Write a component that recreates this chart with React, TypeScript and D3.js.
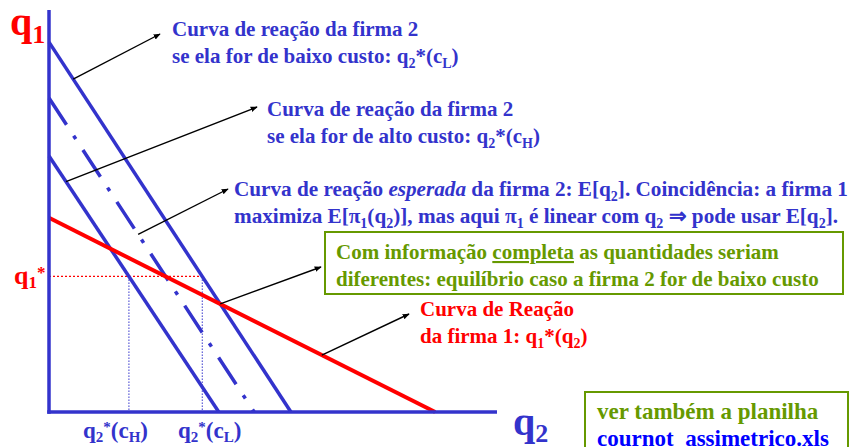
import React from "react";
import * as d3 from "d3";

// Reaction curves, each given by its two intercepts (q1 at q2 = 0, q2 at q1 = 0)
const curveIds = ["lowCost", "highCost", "expected", "firm1"];
const q1Intercepts = [9.2, 6.37, 7.81, 4.83];
const q2Intercepts = [5.4, 3.79, 4.58, 8.62];

// Axis extents (model units)
const q1Max = 10;
const q2Max = 10;

// Points on the curves where the callout arrows start (q2 values)
const arrowStartQ2 = [0.54, 0.38, 1.99, 6.09];

const W = 853;
const H = 447;
const BLUE = "#3333CC";
const RED = "#FF0000";
const GREEN = "#669900";
const LINK = "#0000FF";
const FONT = "'Liberation Serif', 'Times New Roman', serif";

type Seg = { t: string; sub?: boolean; sup?: boolean; it?: boolean; u?: boolean };

const segs = (...parts: (string | Seg)[]): Seg[] =>
  parts.map((p) => (typeof p === "string" ? { t: p } : p));
const sub = (t: string): Seg => ({ t, sub: true });
const sup = (t: string): Seg => ({ t, sup: true });

function RichText({
  x, y, parts, size, fill, subSize, shift = 5,
}: { x: number; y: number; parts: Seg[]; size: number; fill: string; subSize?: number; shift?: number }) {
  const ss = subSize ?? Math.round(size * 0.65);
  let level = 0;
  return (
    <text x={x} y={y} fontFamily={FONT} fontWeight="bold" fontSize={size} fill={fill}>
      {parts.map((p, i) => {
        const target = p.sub ? shift : p.sup ? -shift * 1.4 : 0;
        const dy = target - level;
        level = target;
        return (
          <tspan
            key={i}
            dy={dy}
            fontSize={p.sub || p.sup ? ss : size}
            fontStyle={p.it ? "italic" : "normal"}
            textDecoration={p.u ? "underline" : undefined}
          >
            {p.t}
          </tspan>
        );
      })}
    </text>
  );
}

export default function App() {
  const x = d3.scaleLinear().domain([0, q2Max]).range([49, 497]);
  const y = d3.scaleLinear().domain([0, q1Max]).range([412, 10]);

  const curves = curveIds.map((id, i) => ({ id, A: q1Intercepts[i], B: q2Intercepts[i] }));
  const byId = Object.fromEntries(curves.map((c) => [c.id, c]));
  const q1At = (c: { A: number; B: number }, q2: number) => c.A * (1 - q2 / c.B);
  const q2At = (c: { A: number; B: number }, q1: number) => c.B * (1 - q1 / c.A);

  // Intersection of firm 1's reaction with a firm-2 reaction curve
  const meet = (f1: { A: number; B: number }, f2: { A: number; B: number }) => {
    const q1 = (f1.A * (1 - f2.B / f1.B)) / (1 - (f1.A * f2.B) / (f1.B * f2.A));
    return { q1, q2: q2At(f2, q1) };
  };

  const eq = meet(byId.firm1, byId.expected);
  const q1Star = eq.q1;
  const q2H = q2At(byId.highCost, q1Star);
  const q2L = q2At(byId.lowCost, q1Star);
  const full = meet(byId.firm1, byId.lowCost);

  const line = d3
    .line<[number, number]>()
    .x((d) => x(d[0]))
    .y((d) => y(d[1]));

  const pathOf = (c: { A: number; B: number }) => line([[0, c.A], [c.B, 0]]) ?? "";

  const arrows: { from: [number, number]; to: [number, number] }[] = [
    { from: [x(arrowStartQ2[0]), y(q1At(byId.lowCost, arrowStartQ2[0]))], to: [160, 34] },
    { from: [x(arrowStartQ2[1]), y(q1At(byId.highCost, arrowStartQ2[1]))], to: [257, 107] },
    { from: [x(arrowStartQ2[2]), y(q1At(byId.expected, arrowStartQ2[2]))], to: [228, 189] },
    { from: [x(full.q2), y(full.q1)], to: [321, 267] },
    { from: [x(arrowStartQ2[3]), y(q1At(byId.firm1, arrowStartQ2[3]))], to: [409, 314] },
  ];

  return (
    <svg width={W} height={H} style={{ position: "absolute", left: 0, top: 0, background: "#fff" }}>
      <defs>
        <marker id="head" viewBox="0 0 10 10" refX="9" refY="5" markerWidth="7" markerHeight="7" orient="auto" markerUnits="userSpaceOnUse">
          <path d="M0,1 L10,5 L0,9 Z" fill="#000" />
        </marker>
      </defs>

      {/* guide lines for the equilibrium quantities */}
      <line x1={x(0)} x2={x(q2L)} y1={y(q1Star)} y2={y(q1Star)} stroke={RED} strokeWidth={1.3} strokeDasharray="2,2" />
      <line x1={x(q2H)} x2={x(q2H)} y1={y(q1Star)} y2={y(0)} stroke={BLUE} strokeWidth={1} strokeDasharray="1.5,1.5" />
      <line x1={x(q2L)} x2={x(q2L)} y1={y(q1Star)} y2={y(0)} stroke={BLUE} strokeWidth={1} strokeDasharray="1.5,1.5" />

      {/* reaction curves */}
      <path d={pathOf(byId.lowCost)} stroke={BLUE} strokeWidth={3.5} fill="none" />
      <path d={pathOf(byId.highCost)} stroke={BLUE} strokeWidth={3.5} fill="none" />
      <path d={pathOf(byId.expected)} stroke={BLUE} strokeWidth={3.5} fill="none" strokeDasharray="32,13,4,13" />
      <path d={pathOf(byId.firm1)} stroke={RED} strokeWidth={4} fill="none" />

      {/* axes */}
      <line x1={x(0)} x2={x(0)} y1={y(q1Max)} y2={y(0) + 1.75} stroke={BLUE} strokeWidth={3.5} />
      <line x1={x(0) - 1.75} x2={x(q2Max)} y1={y(0)} y2={y(0)} stroke={BLUE} strokeWidth={3.5} />

      {/* callout arrows */}
      {arrows.map((a, i) => (
        <line key={i} x1={a.from[0]} y1={a.from[1]} x2={a.to[0]} y2={a.to[1]} stroke="#000" strokeWidth={1.4} markerEnd="url(#head)" />
      ))}

      {/* axis titles */}
      <RichText x={10} y={35} size={40} subSize={26} shift={8} fill={RED} parts={segs("q", sub("1"))} />
      <RichText x={513} y={435} size={40} subSize={26} shift={7} fill={BLUE} parts={segs("q", sub("2"))} />
      <RichText x={14} y={284} size={26} subSize={17} shift={4} fill={RED} parts={segs("q", sub("1"), sup("*"))} />

      {/* equilibrium quantity labels */}
      <RichText x={83} y={438} size={23} subSize={15} shift={4} fill={BLUE} parts={segs("q", sub("2"), sup("*"), "(c", sub("H"), ")")} />
      <RichText x={178} y={438} size={23} subSize={15} shift={4} fill={BLUE} parts={segs("q", sub("2"), sup("*"), "(c", sub("L"), ")")} />

      {/* annotations */}
      <RichText x={172} y={36} size={21} fill={BLUE} parts={segs("Curva de reação da firma 2")} />
      <RichText x={172} y={63} size={21} fill={BLUE} parts={segs("se ela for de baixo custo: q", sub("2"), "*(c", sub("L"), ")")} />

      <RichText x={267} y={116} size={21} fill={BLUE} parts={segs("Curva de reação da firma 2")} />
      <RichText x={267} y={143} size={21} fill={BLUE} parts={segs("se ela for de alto custo: q", sub("2"), "*(c", sub("H"), ")")} />

      <RichText x={234} y={196} size={21.2} fill={BLUE}
        parts={segs("Curva de reação ", { t: "esperada", it: true }, " da firma 2: E[q", sub("2"), "]. Coincidência: a firma 1")} />
      <RichText x={234} y={223} size={21.2} fill={BLUE}
        parts={segs("maximiza E[π", sub("1"), "(q", sub("2"), ")], mas aqui π", sub("1"), " é linear com q", sub("2"), " ⇒ pode usar E[q", sub("2"), "].")} />

      <rect x={325} y={232} width={518} height={62} fill="none" stroke={GREEN} strokeWidth={2} />
      <RichText x={336} y={259} size={21} fill={GREEN} parts={segs("Com informação ", { t: "completa", u: true }, " as quantidades seriam")} />
      <RichText x={336} y={286} size={21} fill={GREEN} parts={segs("diferentes: equilíbrio caso a firma 2 for de baixo custo")} />

      <RichText x={420} y={316} size={21} fill={RED} parts={segs("Curva de Reação")} />
      <RichText x={420} y={343} size={21} fill={RED} parts={segs("da firma 1: q", sub("1"), "*(q", sub("2"), ")")} />

      <rect x={585} y={392} width={263} height={80} fill="none" stroke={GREEN} strokeWidth={2} />
      <RichText x={597} y={419} size={23} fill={GREEN} parts={segs("ver também a planilha")} />
      <RichText x={597} y={446} size={23} fill={LINK} parts={segs({ t: "cournot_assimetrico.xls", u: true })} />
    </svg>
  );
}
